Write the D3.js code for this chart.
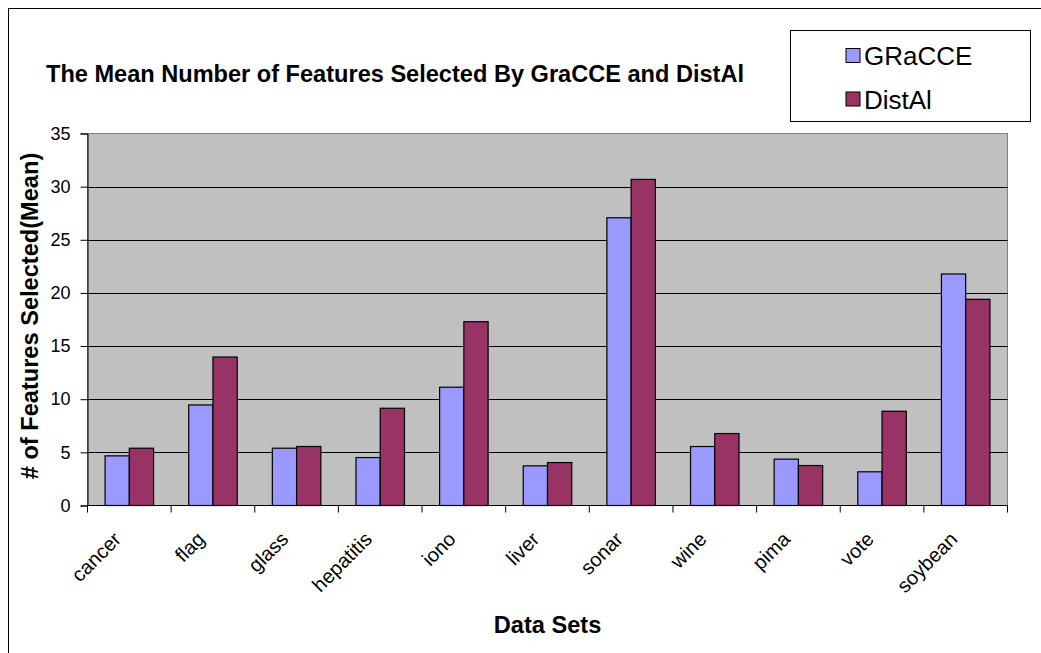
<!DOCTYPE html>
<html>
<head>
<meta charset="utf-8">
<script src="https://cdn.jsdelivr.net/npm/d3@7/dist/d3.min.js"></script>
<style>
  html, body { margin: 0; padding: 0; background: #fff; }
  svg { display: block; }
  text { font-family: "Liberation Sans", Arial, sans-serif; fill: #000; }
</style>
</head>
<body>
<svg id="chart" width="1041" height="653"></svg>
<script>
// Data sets and mean number of features selected by each method
const categories = ["cancer", "flag", "glass", "hepatitis", "iono", "liver", "sonar", "wine", "pima", "vote", "soybean"];
const seriesNames = ["GRaCCE", "DistAl"];
const gracceValues = [4.67, 9.46, 5.39, 4.51, 11.13, 3.73, 27.07, 5.55, 4.36, 3.17, 21.78];
const distalValues = [5.39, 13.97, 5.55, 9.15, 17.29, 4.04, 30.68, 6.77, 3.76, 8.87, 19.40];
const yTicks = [0, 5, 10, 15, 20, 25, 30, 35];
const seriesColors = ["#9999FF", "#993366"];

const rows = categories.map((c, i) => ({ name: c, values: [gracceValues[i], distalValues[i]] }));

const svg = d3.select("#chart");

// outer chart frame
svg.append("rect")
  .attr("x", 8.5).attr("y", 8.5)
  .attr("width", 1100).attr("height", 700)
  .attr("fill", "#fff").attr("stroke", "#000").attr("stroke-width", 1);

const plot = { left: 87.5, right: 1007.5, top: 133.5, bottom: 505.5 };

const y = d3.scaleLinear().domain([0, 35]).range([plot.bottom, plot.top]);
const x0 = d3.scaleBand().domain(categories)
  .range([plot.left, plot.right])
  .paddingInner(0.42).paddingOuter(0.21);
const x1 = d3.scaleBand().domain(seriesNames).range([0, x0.bandwidth()]).padding(0);

// plot background
svg.append("rect")
  .attr("x", plot.left).attr("y", plot.top)
  .attr("width", plot.right - plot.left).attr("height", plot.bottom - plot.top)
  .attr("fill", "#C0C0C0").attr("stroke", "#808080").attr("stroke-width", 1);

// horizontal gridlines
svg.append("g")
  .selectAll("line")
  .data(yTicks.filter(t => t > 0 && t < 35))
  .join("line")
  .attr("x1", plot.left).attr("x2", plot.right)
  .attr("y1", d => Math.round(y(d)) + 0.5).attr("y2", d => Math.round(y(d)) + 0.5)
  .attr("stroke", "#000").attr("stroke-width", 1);

// bars
const groups = svg.append("g")
  .selectAll("g")
  .data(rows)
  .join("g")
  .attr("transform", d => `translate(${x0(d.name)},0)`);

groups.selectAll("rect")
  .data(d => d.values.map((v, i) => ({ key: seriesNames[i], value: v, idx: i })))
  .join("rect")
  .attr("x", d => x1(d.key))
  .attr("y", d => y(d.value))
  .attr("width", x1.bandwidth())
  .attr("height", d => y(0) - y(d.value))
  .attr("fill", d => seriesColors[d.idx])
  .attr("stroke", "#000").attr("stroke-width", 1.2);

// y axis
const yAxis = d3.axisLeft(y).tickValues(yTicks).tickSize(7).tickPadding(10).tickFormat(d3.format("d"));
const gy = svg.append("g").attr("transform", `translate(${plot.left},0)`).call(yAxis);
gy.select(".domain").attr("stroke", "#000");
gy.selectAll(".tick line").attr("stroke", "#000");
gy.selectAll("text").attr("font-size", 18).attr("font-family", "Liberation Sans, Arial, sans-serif").attr("fill", "#000");

// x axis: ticks sit between categories
const gx = svg.append("g").attr("transform", `translate(0,${plot.bottom})`);
gx.append("line").attr("x1", plot.left).attr("x2", plot.right).attr("stroke", "#000");
const step = x0.step();
const boundaries = d3.range(categories.length + 1).map(i => plot.left + i * step);
gx.selectAll("line.tk").data(boundaries).join("line").attr("class", "tk")
  .attr("x1", d => d).attr("x2", d => d).attr("y1", 0).attr("y2", 7)
  .attr("stroke", "#000");

// rotated category labels
gx.selectAll("text.cat").data(categories).join("text").attr("class", "cat")
  .attr("text-anchor", "end")
  .attr("font-size", 20)
  .attr("transform", d => `translate(${x0(d) + x0.bandwidth() / 2 - 7},${35}) rotate(-45)`)
  .text(d => d);

// chart title
svg.append("text")
  .attr("x", 46).attr("y", 82)
  .attr("font-size", 23.6).attr("font-weight", "bold")
  .attr("textLength", 698).attr("lengthAdjust", "spacingAndGlyphs")
  .text("The Mean Number of Features Selected By GraCCE and DistAl");

// axis titles
svg.append("text")
  .attr("text-anchor", "middle")
  .attr("transform", `translate(38,316) rotate(-90)`)
  .attr("font-size", 23.6).attr("font-weight", "bold")
  .text("# of Features Selected(Mean)");

svg.append("text")
  .attr("text-anchor", "middle")
  .attr("x", (plot.left + plot.right) / 2).attr("y", 633)
  .attr("font-size", 23.6).attr("font-weight", "bold")
  .text("Data Sets");

// legend
const legend = svg.append("g");
legend.append("rect")
  .attr("x", 790.5).attr("y", 30.5).attr("width", 240).attr("height", 91)
  .attr("fill", "#fff").attr("stroke", "#000").attr("stroke-width", 1);
const legendRows = [
  { name: seriesNames[0], color: seriesColors[0], sy: 48.5, ty: 65 },
  { name: seriesNames[1], color: seriesColors[1], sy: 92, ty: 109 }
];
legend.selectAll("rect.sw").data(legendRows).join("rect").attr("class", "sw")
  .attr("x", 846).attr("y", d => d.sy).attr("width", 14).attr("height", 14)
  .attr("fill", d => d.color).attr("stroke", "#000").attr("stroke-width", 1);
legend.selectAll("text").data(legendRows).join("text")
  .attr("x", 864).attr("y", d => d.ty)
  .attr("font-size", 26)
  .text(d => d.name);
</script>
</body>
</html>
